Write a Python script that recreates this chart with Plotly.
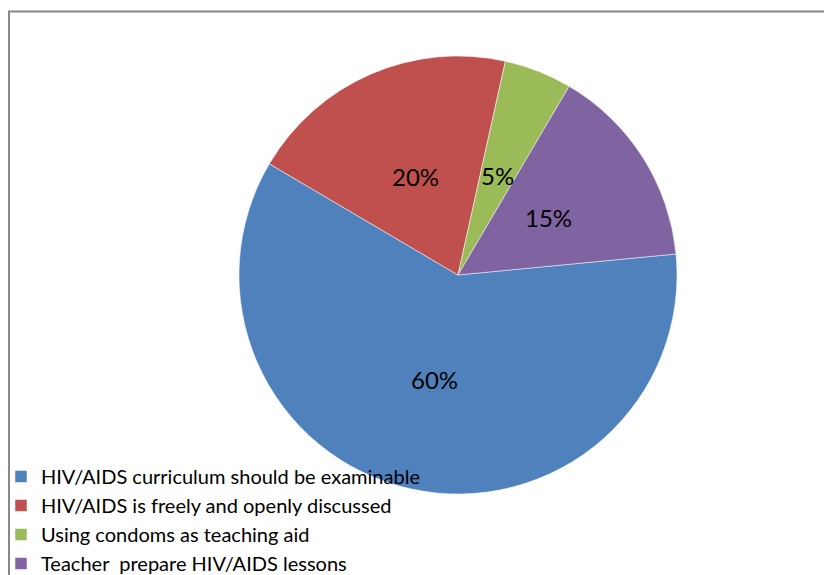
import math
import plotly.graph_objects as go

labels = [
    "HIV/AIDS curriculum should be examinable",
    "HIV/AIDS is freely and openly discussed",
    "Using condoms as teaching aid",
    "Teacher  prepare HIV/AIDS lessons",
]
values = [60, 20, 5, 15]
colors = ["#4F81BD", "#C0504D", "#9BBB59", "#8064A2"]

W, H = 824, 575
cx, cy, R = 458, 275, 219
start_angle = 84.5  # degrees clockwise from 12 o'clock

font_family = "Lato, 'Open Sans', sans-serif"

fig = go.Figure(go.Pie(
    labels=labels,
    values=values,
    sort=False,
    direction="clockwise",
    rotation=start_angle,
    marker=dict(colors=colors, line=dict(color="white", width=0.5)),
    textinfo="none",
    domain=dict(x=[(cx - R) / W, (cx + R) / W], y=[1 - (cy + R) / H, 1 - (cy - R) / H]),
    hoverinfo="label+percent",
))

# percent labels placed at half radius along each slice's mid-angle (like Excel)
total = sum(values)
annotations = []
acc = 0
for v in values:
    mid = start_angle + 360 * (acc + v / 2) / total
    acc += v
    rad = math.radians(mid)
    r = 0.49 * R
    px = cx + r * math.sin(rad)
    py = cy - r * math.cos(rad)
    annotations.append(dict(
        x=px / W, y=1 - py / H, xref="paper", yref="paper",
        text=f"{round(100 * v / total)}%", showarrow=False,
        font=dict(family=font_family, size=24, color="black"),
        xanchor="center", yanchor="middle",
    ))

fig.update_layout(
    width=W, height=H,
    margin=dict(l=0, r=0, t=0, b=0, autoexpand=False),
    paper_bgcolor="white",
    plot_bgcolor="white",
    showlegend=True,
    legend=dict(
        x=1 / W, y=-8 / H, xanchor="left", yanchor="bottom",
        font=dict(family=font_family, size=20, color="black"),
        bgcolor="rgba(0,0,0,0)",
        traceorder="normal",
    ),
    annotations=annotations,
    shapes=[dict(
        type="rect", xref="paper", yref="paper",
        x0=9 / W, x1=1.05, y0=-0.05, y1=1 - 11.5 / H,
        line=dict(color="#888888", width=2), layer="below",
    )],
)

fig.write_html(
    "out.html",
    config={"displayModeBar": False},
    post_script="document.body.style.margin='0';document.body.style.overflow='hidden';",
)
